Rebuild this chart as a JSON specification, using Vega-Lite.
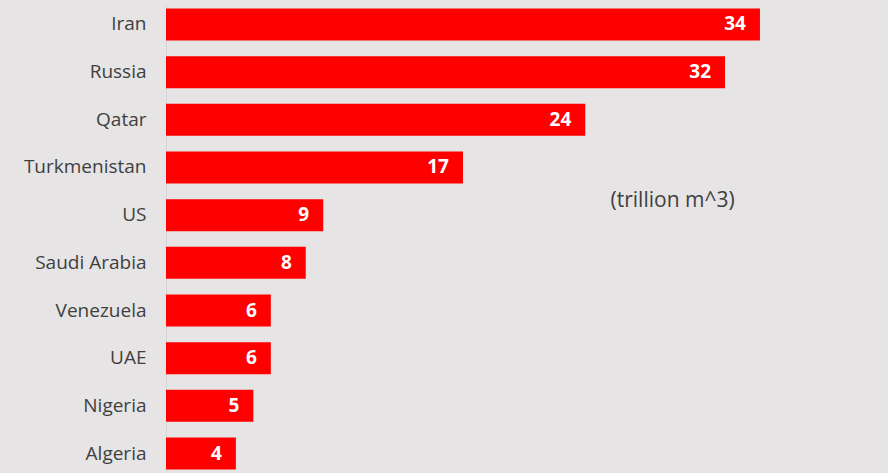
{
  "$schema": "https://vega.github.io/schema/vega-lite/v6.json",
  "autosize": "none",
  "width": 722,
  "height": 468,
  "padding": {"left": 166, "top": 5, "right": 0, "bottom": 0},
  "background": "#e6e4e5",
  "config": {"view": {"stroke": null}, "font": "Open Sans"},
  "data": {"values": [
    {"country": "Iran", "value": 34},
    {"country": "Russia", "value": 32},
    {"country": "Qatar", "value": 24},
    {"country": "Turkmenistan", "value": 17},
    {"country": "US", "value": 9},
    {"country": "Saudi Arabia", "value": 8},
    {"country": "Venezuela", "value": 6},
    {"country": "UAE", "value": 6},
    {"country": "Nigeria", "value": 5},
    {"country": "Algeria", "value": 4}
  ]},
  "encoding": {
    "y": {"field": "country", "type": "nominal", "sort": null,
      "scale": {"paddingInner": 0.33, "paddingOuter": 0.074},
      "axis": {"title": null, "ticks": false, "domain": true, "domainColor": "#d6d4d5", "labelFontSize": 19, "labelColor": "#404040", "labelPadding": 20, "labelFont": "Open Sans"}},
    "x": {"field": "value", "type": "quantitative", "scale": {"domain": [0, 41.33], "nice": false}, "axis": null}
  },
  "layer": [
    {"mark": {"type": "bar", "color": "#ff0000"}},
    {"mark": {"type": "text", "align": "right", "dx": -14, "color": "white", "fontWeight": "bold", "fontSize": 19, "baseline": "middle"},
     "encoding": {"text": {"field": "value", "type": "quantitative"}}},
    {"data": {"values": [{"note": "(trillion m^3)", "country": "US", "xpos": 29}]},
     "mark": {"type": "text", "align": "center", "baseline": "middle", "fontSize": 21, "fontWeight": "normal", "color": "#404040", "dy": -14},
     "encoding": {"x": {"field": "xpos", "type": "quantitative"}, "y": {"field": "country", "type": "nominal", "sort": null}, "text": {"field": "note"}}}
  ]
}
